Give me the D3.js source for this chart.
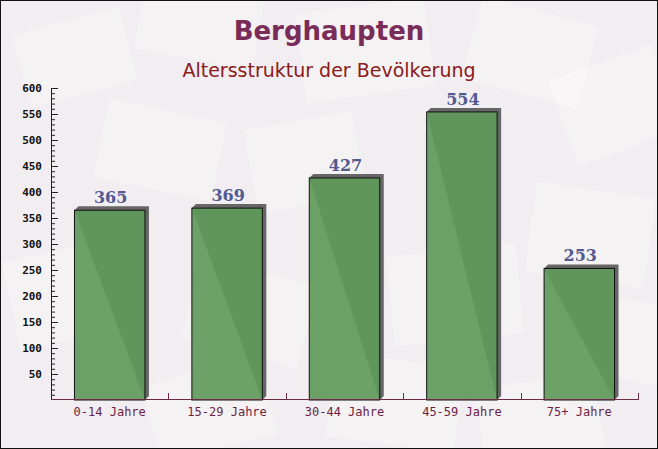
<!DOCTYPE html>
<html>
<head>
<meta charset="UTF-8">
<title>Berghaupten</title>
<script src="https://cdnjs.cloudflare.com/ajax/libs/d3/7.8.5/d3.min.js"></script>
<style>
  body { margin: 0; padding: 0; }
  svg { display: block; }
</style>
</head>
<body>
<div id="chart"></div>
<script>
var categories = ["0-14 Jahre", "15-29 Jahre", "30-44 Jahre", "45-59 Jahre", "75+ Jahre"];
var values = [365, 369, 427, 554, 253];
var yTicks = [50, 100, 150, 200, 250, 300, 350, 400, 450, 500, 550, 600];

var w = 658, h = 449;
var mLeft = 51, mRight = 638, mTop = 88, mBottom = 400;

var svg = d3.select("#chart").append("svg")
    .attr("width", w)
    .attr("height", h);

// background with faint envelope shapes
svg.append("rect").attr("width", w).attr("height", h).attr("fill", "#f1edf0");
var deco = [
  [20, 20, 110, 75, -15], [140, -20, 120, 80, 10], [300, 5, 130, 90, -8], [470, 10, 120, 85, 15],
  [560, 60, 110, 90, -20], [100, 110, 120, 80, 12], [250, 120, 110, 85, -10], [530, 190, 120, 90, 8],
  [10, 250, 110, 90, -12], [190, 270, 120, 85, 15], [390, 250, 130, 90, -6], [580, 300, 100, 80, 10],
  [150, 370, 120, 80, -15], [330, 360, 130, 85, 8], [480, 380, 120, 80, -10]
];
svg.selectAll("rect.deco").data(deco).enter().append("rect")
    .attr("class", "deco")
    .attr("x", function(d){ return d[0]; })
    .attr("y", function(d){ return d[1]; })
    .attr("width", function(d){ return d[2]; })
    .attr("height", function(d){ return d[3]; })
    .attr("transform", function(d){ return "rotate(" + d[4] + "," + (d[0] + d[2]/2) + "," + (d[1] + d[3]/2) + ")"; })
    .attr("fill", "#ffffff")
    .attr("opacity", 0.3);

var x = d3.scaleBand().domain(categories).range([mLeft, mRight]).paddingInner(0.4).paddingOuter(0.2);
var y = d3.scaleLinear().domain([0, 600]).range([mBottom, mTop]);

// title
svg.append("text").attr("x", w/2).attr("y", 40).attr("text-anchor", "middle")
    .attr("font-family", "'DejaVu Sans', sans-serif").attr("font-weight", "bold")
    .attr("font-size", 26).attr("fill", "#7a2c58").text("Berghaupten");
svg.append("text").attr("x", w/2).attr("y", 77).attr("text-anchor", "middle")
    .attr("font-family", "'DejaVu Sans', sans-serif")
    .attr("font-size", 19).attr("fill", "#8b1a1a").text("Altersstruktur der Bevölkerung");

// bars with 3d shadow
var d = 4;
var g = svg.append("g");
g.selectAll("path.shadow").data(values).enter().append("path")
    .attr("class", "shadow")
    .attr("d", function(v, i){
      var x0 = x(categories[i]), x1 = x0 + x.bandwidth(), yt = y(v), yb = y(0);
      return "M" + x0 + "," + yt + "L" + (x0 + d) + "," + (yt - d) + "L" + (x1 + d) + "," + (yt - d) +
             "L" + (x1 + d) + "," + (yb - d) + "L" + x1 + "," + yb + "Z";
    })
    .attr("fill", "#666666");
g.selectAll("rect.bar").data(values).enter().append("rect")
    .attr("class", "bar")
    .attr("x", function(v, i){ return x(categories[i]); })
    .attr("y", function(v){ return y(v); })
    .attr("width", x.bandwidth())
    .attr("height", function(v){ return y(0) - y(v); })
    .attr("fill", "#5f9a5a")
    .attr("fill-opacity", 0.92)
    .attr("stroke", "#111111")
    .attr("stroke-width", 1);
g.selectAll("text.val").data(values).enter().append("text")
    .attr("class", "val")
    .attr("x", function(v, i){ return x(categories[i]) + x.bandwidth()/2 + 1; })
    .attr("y", function(v){ return y(v) - 7; })
    .attr("text-anchor", "middle")
    .attr("font-family", "'DejaVu Serif', serif").attr("font-weight", "bold")
    .attr("font-size", 16).attr("fill", "#525a90")
    .text(function(v){ return v; });

// y axis
var yAxis = svg.append("g").attr("transform", "translate(" + mLeft + ",0)");
yAxis.call(d3.axisRight(y).tickValues(d3.range(10, 601, 10)).tickSize(4).tickFormat(""));
yAxis.select(".domain").remove();
yAxis.selectAll("line").attr("stroke", "#222");
var yMaj = svg.append("g").attr("transform", "translate(" + mLeft + ",0)");
yMaj.call(d3.axisRight(y).tickValues(yTicks).tickSize(7).tickFormat(""));
yMaj.select(".domain").remove();
yMaj.selectAll("line").attr("stroke", "#222");
svg.selectAll("text.ylab").data(yTicks).enter().append("text")
    .attr("class", "ylab")
    .attr("x", mLeft - 9).attr("y", function(v){ return y(v) + 4; })
    .attr("text-anchor", "end")
    .attr("font-family", "'DejaVu Sans Mono', monospace").attr("font-weight", "bold")
    .attr("font-size", 11).attr("fill", "#111")
    .text(function(v){ return v; });
svg.append("line").attr("x1", mLeft + 0.5).attr("x2", mLeft + 0.5).attr("y1", mTop).attr("y2", mBottom)
    .attr("stroke", "#222");

// x axis
var bounds = categories.map(function(c){ return x(c) - x.step()*x.paddingInner()/2 + x.step(); });
svg.selectAll("line.xt").data(bounds).enter().append("line")
    .attr("class", "xt")
    .attr("x1", function(b){ return Math.round(b) + 0.5; })
    .attr("x2", function(b){ return Math.round(b) + 0.5; })
    .attr("y1", mBottom - 7).attr("y2", mBottom)
    .attr("stroke", "#6b2a48");
svg.append("line").attr("x1", mLeft).attr("x2", mRight).attr("y1", mBottom - 0.5).attr("y2", mBottom - 0.5)
    .attr("stroke", "#6b2a48");
svg.selectAll("text.xlab").data(categories).enter().append("text")
    .attr("class", "xlab")
    .attr("x", function(c){ return x(c) + x.bandwidth()/2; })
    .attr("y", mBottom + 16)
    .attr("text-anchor", "middle")
    .attr("font-family", "'DejaVu Sans Mono', monospace")
    .attr("font-size", 12).attr("fill", "#6b1f45")
    .text(function(c){ return c; });

// border
svg.append("rect").attr("x", 0.5).attr("y", 0.5).attr("width", w - 1).attr("height", h - 1)
    .attr("fill", "none").attr("stroke", "#111");
</script>
</body>
</html>
